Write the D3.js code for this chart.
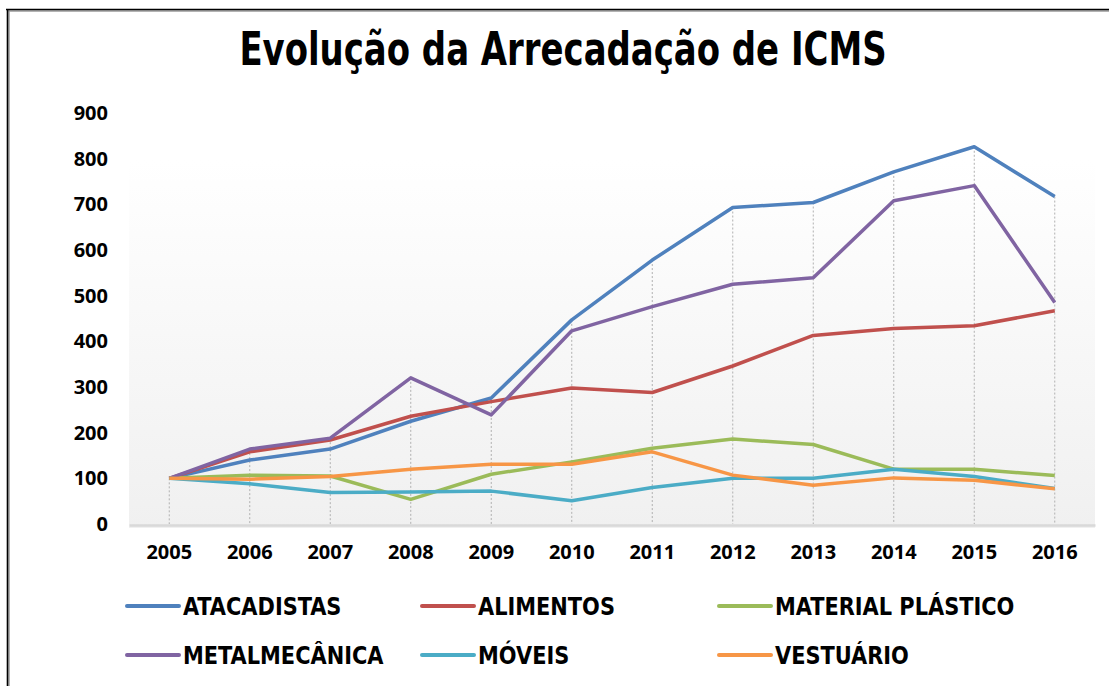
<!DOCTYPE html>
<html>
<head>
<meta charset="utf-8">
<script src="https://cdn.jsdelivr.net/npm/d3@7"></script>
<style>
  body { margin: 0; background: #fff; }
  .narrow { font-family: "Liberation Sans Narrow", "Arial Narrow", "DejaVu Sans Condensed", sans-serif; font-weight: bold; }
  .tick text { font-family: "Noto Sans", sans-serif; font-weight: bold; font-size: 20px; fill: #000; }
</style>
</head>
<body>
<div id="plot"></div>
<script>
// Data
const years = ["2005", "2006", "2007", "2008", "2009", "2010", "2011", "2012", "2013", "2014", "2015", "2016"];
const atacadistas = [100, 140, 164, 225, 276, 447, 578, 693, 704, 771, 826, 717];
const alimentos = [100, 158, 184, 236, 268, 298, 288, 346, 413, 428, 434, 467];
const materialPlastico = [100, 107, 105, 54, 109, 136, 166, 186, 174, 120, 120, 106];
const metalmecanica = [100, 164, 188, 320, 239, 423, 476, 525, 539, 708, 741, 485];
const moveis = [100, 88, 69, 70, 72, 51, 80, 100, 100, 120, 104, 78];
const vestuario = [100, 98, 104, 120, 131, 131, 158, 107, 85, 101, 96, 77];
const yTicks = [0, 100, 200, 300, 400, 500, 600, 700, 800, 900];

const seriesNames = ["ATACADISTAS", "ALIMENTOS", "MATERIAL PLÁSTICO", "METALMECÂNICA", "MÓVEIS", "VESTUÁRIO"];
const seriesValues = [atacadistas, alimentos, materialPlastico, metalmecanica, moveis, vestuario];
const colors = ["#4F81BD", "#C0504D", "#9BBB59", "#8064A2", "#4BACC6", "#F79646"];

const series = seriesNames.map((name, i) => ({name, values: seriesValues[i], color: colors[i]}));

const W = 1109, H = 686;
const plot = {left: 129, right: 1095, top: 113, bottom: 525};

const svg = d3.select("#plot")
  .append("svg")
  .attr("width", W)
  .attr("height", H);

// background gradient of the plot area
const defs = svg.append("defs");
const grad = defs.append("linearGradient")
  .attr("id", "bg")
  .attr("x1", 0).attr("y1", 0).attr("x2", 0).attr("y2", 1);
grad.append("stop").attr("offset", "0%").attr("stop-color", "#ffffff");
grad.append("stop").attr("offset", "100%").attr("stop-color", "#f0f0f0");

// chart frame (only top and left edges are visible)
svg.append("line").attr("x1", 7).attr("x2", W).attr("y1", 11).attr("y2", 11)
  .attr("stroke", "#9a9a9a").attr("stroke-width", 1.5);
svg.append("line").attr("x1", 9).attr("x2", 9).attr("y1", 10).attr("y2", H)
  .attr("stroke", "#9a9a9a").attr("stroke-width", 1.5);
svg.append("line").attr("x1", 6).attr("x2", W).attr("y1", 9.5).attr("y2", 9.5)
  .attr("stroke", "#000").attr("stroke-width", 1.6);
svg.append("line").attr("x1", 7.5).attr("x2", 7.5).attr("y1", 9).attr("y2", H)
  .attr("stroke", "#000").attr("stroke-width", 1.6);

// Set the scales
const x = d3.scaleBand().domain(years).range([plot.left, plot.right]);
const y = d3.scaleLinear().domain([0, 900]).range([plot.bottom - 1, plot.top]);

svg.append("rect")
  .attr("x", plot.left)
  .attr("y", 160)
  .attr("width", plot.right - plot.left)
  .attr("height", plot.bottom + 3 - 160)
  .attr("fill", "url(#bg)");

// Title (condensed horizontally to mimic a narrow face)
svg.append("text")
  .attr("class", "narrow")
  .attr("transform", "translate(563,65) scale(0.82,1)")
  .attr("text-anchor", "middle")
  .attr("font-size", 46)
  .text("Evolução da Arrecadação de ICMS");

// drop lines from the highest point down to the axis
const cx = d => x(d) + x.bandwidth() / 2;
svg.append("g")
  .selectAll("line")
  .data(years)
  .join("line")
  .attr("x1", d => cx(d))
  .attr("x2", d => cx(d))
  .attr("y1", (d, i) => y(d3.max(seriesValues, v => v[i])))
  .attr("y2", y(0))
  .attr("stroke", "#b0b0b0")
  .attr("stroke-width", 1)
  .attr("stroke-dasharray", "2,2");

// Y axis
svg.append("g")
  .attr("transform", `translate(${plot.left - 21},0)`)
  .call(d3.axisLeft(y).tickValues(yTicks).tickSize(0).tickPadding(0))
  .call(g => g.select(".domain").remove());

// X axis
svg.append("g")
  .attr("transform", `translate(0,${plot.bottom})`)
  .call(d3.axisBottom(x).tickSize(0).tickPadding(20))
  .call(g => g.select(".domain").attr("stroke", "#d9d9d9").attr("stroke-width", 2.5));

// lines
const line = d3.line()
  .x((d, i) => cx(years[i]))
  .y(d => y(d));

svg.append("g")
  .selectAll("path")
  .data(series)
  .join("path")
  .attr("d", d => line(d.values))
  .attr("fill", "none")
  .attr("stroke", d => d.color)
  .attr("stroke-width", 3.5)
  .attr("stroke-linejoin", "round");

// Legend
const legendCols = [127, 422, 719];
const legendRows = [606, 655];
const legend = svg.append("g")
  .selectAll("g")
  .data(series)
  .join("g")
  .attr("transform", (d, i) => `translate(${legendCols[i % 3]},${legendRows[Math.floor(i / 3)]})`);

legend.append("line")
  .attr("x1", 0).attr("x2", 52)
  .attr("stroke", d => d.color)
  .attr("stroke-width", 4)
  .attr("stroke-linecap", "round");

legend.append("text")
  .attr("class", "narrow")
  .attr("transform", "translate(56,9) scale(0.93,1)")
  .attr("font-size", 25)
  .text(d => d.name);
</script>
</body>
</html>
